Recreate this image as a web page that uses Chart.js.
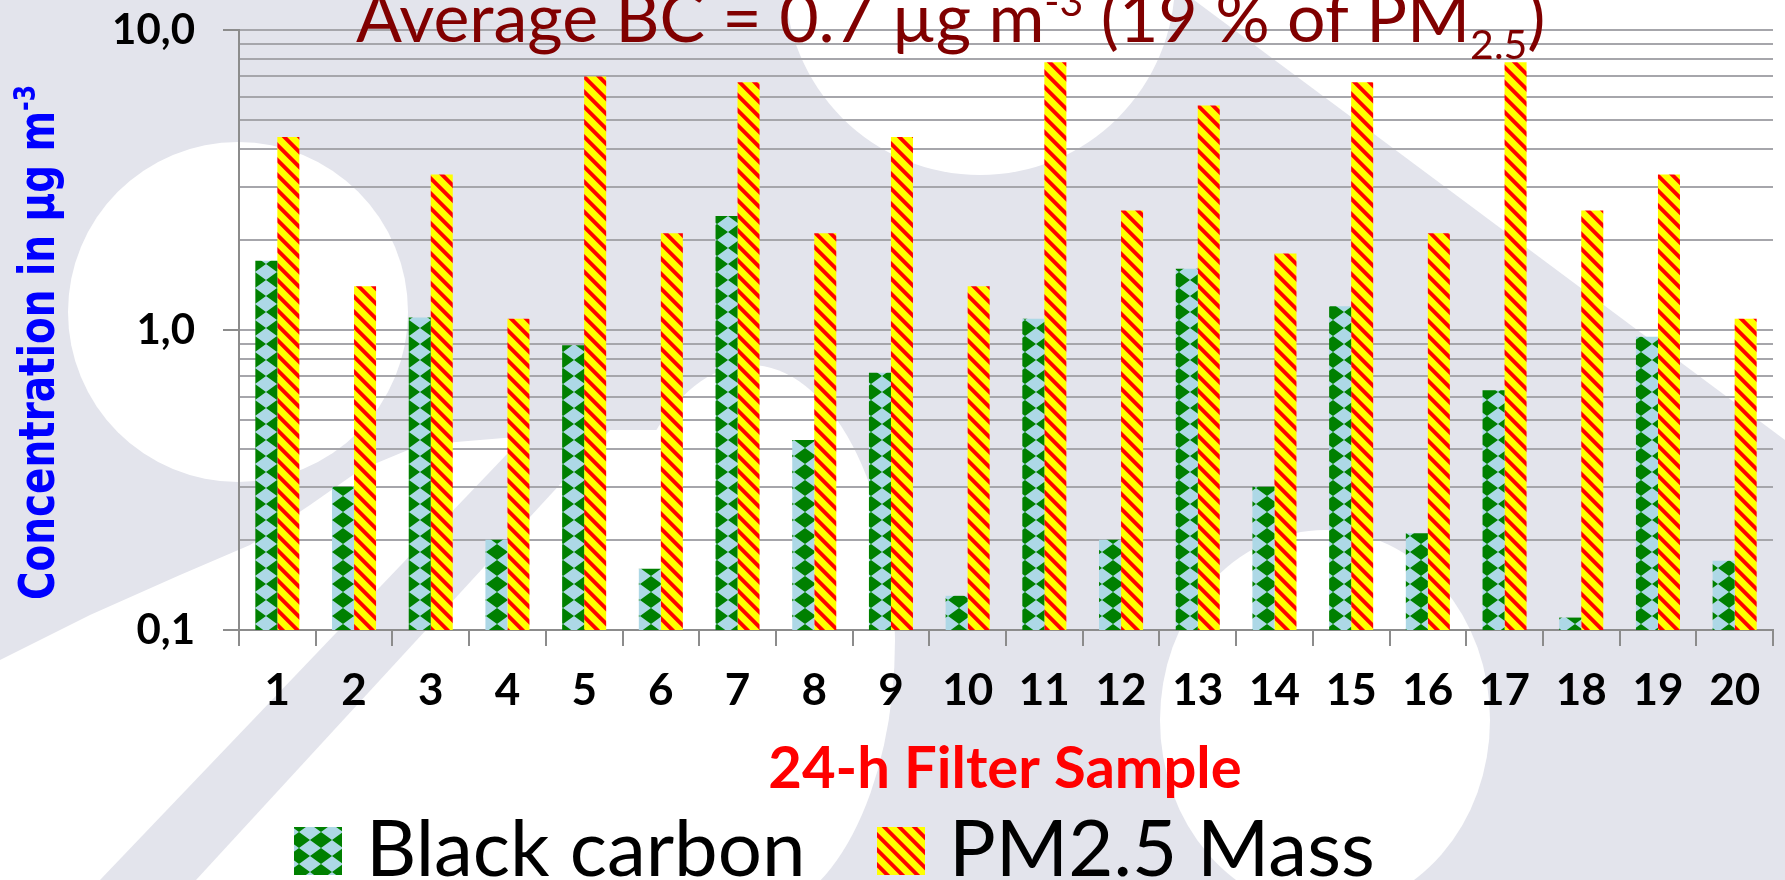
<!DOCTYPE html>
<html lang="en">
<head>
<meta charset="UTF-8" />
<title>Black carbon and PM2.5 per 24-h filter sample</title>
<script src="https://cdn.jsdelivr.net/npm/chart.js"></script>
<style>
  html, body { margin: 0; padding: 0; background: #fff; }
  #wrap { width: 1785px; height: 880px; }
</style>
</head>
<body>
<div id="wrap"><canvas id="chart" width="1785" height="880"></canvas></div>
<script>
  // values (µg m-3, log axis)
  const samples = ['1', '2', '3', '4', '5', '6', '7', '8', '9', '10',
                   '11', '12', '13', '14', '15', '16', '17', '18', '19', '20'];
  const blackCarbon = [1.7, 0.3, 1.1, 0.2, 0.89, 0.16, 2.4, 0.43, 0.72, 0.13,
                       1.09, 0.2, 1.6, 0.3, 1.2, 0.21, 0.63, 0.11, 0.95, 0.17];
  const pm25Mass = [4.4, 1.4, 3.3, 1.09, 7.0, 2.1, 6.7, 2.1, 4.4, 1.4,
                    7.8, 2.5, 5.6, 1.8, 6.7, 2.1, 7.8, 2.5, 3.3, 1.09];
  const yTicks = [0.1, 0.2, 0.3, 0.4, 0.5, 0.6, 0.7, 0.8, 0.9,
                  1, 2, 3, 4, 5, 6, 7, 8, 9, 10];
  const yTickText = { 0.1: '0,1', 1: '1,0', 10: '10,0' };

  const titleParts = [
    ['Average BC = 0.7 µg m', 'normal'], ['-3', 'sup'],
    [' (19 % of PM', 'normal'], ['2.5', 'sub'], [')', 'normal']
  ];
  const yTitleParts = [['Concentration in µg m', 'normal'], ['-3', 'sup']];
  const xTitle = '24-h Filter Sample';

  const axisGray = '#8c8c8c';
  const gridGray = '#a6a6ab';
  const bgGray = '#e3e4ec';

  // green diamonds on light blue
  function diamondFill() {
    const w = 22, h = 16;
    const c = document.createElement('canvas');
    c.width = w; c.height = h;
    const g = c.getContext('2d');
    g.fillStyle = '#add8e6';
    g.fillRect(0, 0, w, h);
    g.fillStyle = '#008000';
    g.beginPath();
    g.moveTo(w / 2, 0); g.lineTo(w, h / 2); g.lineTo(w / 2, h); g.lineTo(0, h / 2);
    g.closePath();
    g.fill();
    const p = g.createPattern(c, 'repeat');
    p.setTransform(new DOMMatrix().translate(2, 0));
    return p;
  }

  // red diagonal stripes on yellow
  function stripeFill() {
    const s = 15, red = 5.5, sub = 4;
    const c = document.createElement('canvas');
    c.width = s; c.height = s;
    const g = c.getContext('2d');
    const img = g.createImageData(s, s);
    for (let y = 0; y < s; y++) {
      for (let x = 0; x < s; x++) {
        let hit = 0;
        for (let sy = 0; sy < sub; sy++) {
          for (let sx = 0; sx < sub; sx++) {
            const d = ((y + (sy + 0.5) / sub) - (x + (sx + 0.5) / sub)) % s;
            if ((d + s) % s < red) hit++;
          }
        }
        const cov = hit / (sub * sub);
        const i = (y * s + x) * 4;
        img.data[i] = 255;
        img.data[i + 1] = Math.round(255 * (1 - cov));
        img.data[i + 2] = 0;
        img.data[i + 3] = 255;
      }
    }
    g.putImageData(img, 0, 0);
    return g.createPattern(c, 'repeat');
  }

  const bcFill = diamondFill();
  const pmFill = stripeFill();

  // faint logo watermark behind the chart
  const watermark = {
    id: 'watermark',
    beforeDraw(chart) {
      const ctx = chart.ctx;
      ctx.save();
      ctx.fillStyle = bgGray;
      ctx.fillRect(0, 0, chart.width, chart.height);
      ctx.fillStyle = '#ffffff';
      ctx.beginPath(); ctx.arc(238, 312, 170, 0, Math.PI * 2); ctx.fill();
      ctx.beginPath(); ctx.arc(980, -20, 195, 0, Math.PI * 2); ctx.fill();
      ctx.beginPath();
      ctx.moveTo(1194, 0); ctx.lineTo(1785, 0); ctx.lineTo(1785, 440);
      ctx.closePath(); ctx.fill();
      ctx.beginPath(); ctx.ellipse(1325, 720, 165, 190, 0, 0, Math.PI * 2); ctx.fill();
      ctx.beginPath();
      ctx.moveTo(0, 660); ctx.lineTo(90, 615); ctx.lineTo(180, 575); ctx.lineTo(250, 545);
      ctx.lineTo(310, 505); ctx.lineTo(360, 470); ctx.lineTo(420, 445); ctx.lineTo(600, 430);
      ctx.lineTo(700, 430); ctx.lineTo(700, 880); ctx.lineTo(0, 880);
      ctx.closePath(); ctx.fill();
      ctx.beginPath(); ctx.ellipse(750, 640, 145, 275, 0, 0, Math.PI * 2); ctx.fill();
      ctx.fillStyle = bgGray;
      ctx.beginPath();
      ctx.moveTo(100, 880); ctx.lineTo(196, 880); ctx.lineTo(610, 430); ctx.lineTo(530, 430);
      ctx.closePath(); ctx.fill();
      ctx.restore();
    }
  };

  function drawParts(ctx, parts, x, y, size, weight, family) {
    for (const [text, kind] of parts) {
      const small = kind !== 'normal';
      ctx.font = weight + ' ' + (small ? Math.round(size * 0.6) : size) + 'px ' + family;
      const dy = kind === 'sup' ? -size * 0.38 : kind === 'sub' ? size * 0.25 : 0;
      ctx.fillText(text, x, y + dy);
      x += ctx.measureText(text).width;
    }
    return x;
  }

  function partsWidth(ctx, parts, size, weight, family) {
    let w = 0;
    for (const [text, kind] of parts) {
      ctx.font = weight + ' ' + (kind !== 'normal' ? Math.round(size * 0.6) : size) + 'px ' + family;
      w += ctx.measureText(text).width;
    }
    return w;
  }

  const texts = {
    id: 'texts',
    afterDraw(chart) {
      const ctx = chart.ctx;
      ctx.save();
      ctx.textBaseline = 'alphabetic';
      ctx.textAlign = 'left';

      // title, overlapping the top of the plot
      ctx.fillStyle = '#800000';
      drawParts(ctx, titleParts, 356, 42, 68, 'normal', 'Lato');

      // y axis title, rotated
      ctx.save();
      ctx.fillStyle = '#0000ff';
      ctx.translate(54, 600);
      ctx.rotate(-Math.PI / 2);
      const yw = partsWidth(ctx, yTitleParts, 50, 'bold', '"DejaVu Sans"');
      ctx.scale(515 / yw, 1);
      drawParts(ctx, yTitleParts, 0, 0, 50, 'bold', '"DejaVu Sans"');
      ctx.restore();

      // x axis title
      ctx.fillStyle = '#ff0000';
      ctx.font = 'bold 58px Lato';
      ctx.textAlign = 'center';
      ctx.fillText(xTitle, 1005, 788);

      // legend
      ctx.textAlign = 'left';
      ctx.font = 'normal 78px Lato';
      const keyX = [294, 877];
      chart.data.datasets.forEach((ds, i) => {
        const x = keyX[i];
        ctx.fillStyle = ds.backgroundColor;
        ctx.fillRect(x, 827, 48, 48);
        ctx.fillStyle = '#000';
        ctx.fillText(ds.label, x + 72, 876);
      });
      ctx.restore();
    }
  };

  new Chart(document.getElementById('chart'), {
    type: 'bar',
    data: {
      labels: samples,
      datasets: [
        { label: 'Black carbon', data: blackCarbon, backgroundColor: bcFill,
          borderWidth: 0, categoryPercentage: 0.574, barPercentage: 1 },
        { label: 'PM2.5 Mass', data: pm25Mass, backgroundColor: pmFill,
          borderWidth: 0, categoryPercentage: 0.574, barPercentage: 1 }
      ]
    },
    options: {
      responsive: false,
      devicePixelRatio: 1,
      animation: false,
      layout: { padding: { top: 30, right: 12, left: 0, bottom: 0 } },
      plugins: {
        legend: { display: false },
        title: { display: false },
        tooltip: { enabled: false }
      },
      scales: {
        x: {
          grid: { display: true, drawOnChartArea: false, offset: true,
                  tickLength: 16, color: axisGray, lineWidth: 2 },
          border: { display: true, color: axisGray, width: 2 },
          ticks: { color: '#000', padding: 18, autoSkip: false, maxRotation: 0,
                   font: { family: 'Lato', size: 44, weight: 'bold' } },
          afterFit: s => { s.height = 250; s.paddingLeft = 0; s.paddingRight = 0; }
        },
        y: {
          type: 'logarithmic',
          min: 0.1,
          max: 10,
          afterBuildTicks: s => { s.ticks = yTicks.map(v => ({ value: v })); },
          grid: {
            color: gridGray,
            lineWidth: 2,
            tickLength: 16,
            tickColor: c => (yTickText[c.tick.value] ? axisGray : 'rgba(0,0,0,0)')
          },
          border: { display: true, color: axisGray, width: 2 },
          ticks: {
            color: '#000',
            padding: 28,
            autoSkip: false,
            font: { family: 'Lato', size: 42, weight: 'bold' },
            callback: v => yTickText[v] || ''
          },
          afterFit: s => { s.width = 239; s.paddingTop = 0; s.paddingBottom = 0; }
        }
      }
    },
    plugins: [watermark, texts]
  });
</script>
</body>
</html>
